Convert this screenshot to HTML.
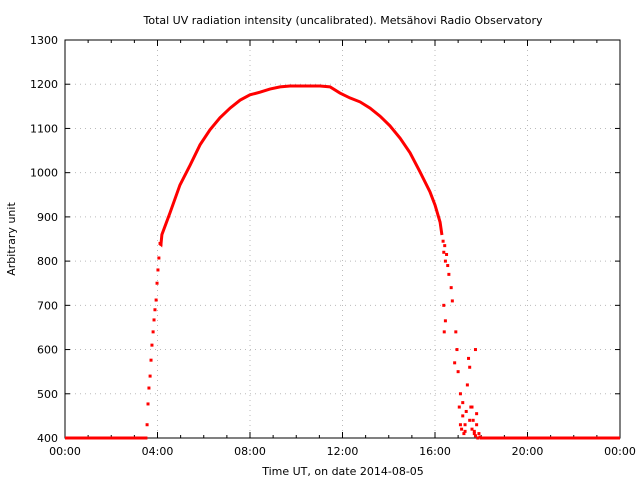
<!DOCTYPE html>
<html><head><meta charset="utf-8"><style>
body{margin:0;background:#fff}
svg{display:block;font-family:"DejaVu Sans","Liberation Sans",sans-serif;font-size:11px}
</style></head><body>
<svg id="chart" width="640" height="480">
<text x="343" y="24" text-anchor="middle">Total UV radiation intensity (uncalibrated). Metsähovi Radio Observatory</text>
<text x="343" y="475" text-anchor="middle">Time UT, on date 2014-08-05</text>
<text transform="translate(15,239) rotate(-90)" text-anchor="middle">Arbitrary unit</text>
<g id="grid"></g><g id="axes"></g><g id="marks"></g>
</svg>
<script>
const yTicks=[400,500,600,700,800,900,1000,1100,1200,1300];
const xTickHours=[0,4,8,12,16,20,24];
const xTickLabels=["00:00","04:00","08:00","12:00","16:00","20:00","00:00"];
const curveHours=[0,3.5,3.55,3.59,3.63,3.68,3.72,3.76,3.81,3.85,3.89,3.94,3.98,4.02,4.06,4.11,4.15,4.19,4.54,4.97,5.41,5.84,6.27,6.70,7.14,7.57,8.0,8.43,8.86,9.30,9.73,10.16,10.59,11.03,11.46,11.89,12.32,12.76,13.19,13.62,14.05,14.49,14.92,15.35,15.78,16.0,16.22,16.30];
const curveValues=[400,400,430,477,513,540,576,610,640,667,690,712,750,780,807,840,838,860,909,972,1017,1063,1097,1124,1146,1164,1176,1182,1189,1194,1196,1196,1196,1196,1194,1180,1169,1160,1146,1128,1106,1078,1045,1002,957,927,888,859];
const tailHours=[16.35,16.38,16.42,16.45,16.5,16.55,16.6,16.38,16.4,16.45,16.7,16.75,16.85,16.9,16.95,17.0,17.05,17.1,17.15,17.2,17.25,17.3,17.35,17.4,17.45,17.5,17.55,17.6,17.65,17.7,17.75,17.8,17.85,17.9,17.95,18.0,17.1,17.2,17.3,17.5,17.6,17.7,17.75,17.8];
const tailValues=[845,820,835,800,815,790,770,700,640,665,740,710,570,640,600,550,470,430,420,450,410,430,460,520,580,560,470,420,440,410,405,430,400,410,402,400,500,480,415,440,470,415,600,455];
const endHours=[18.05,24];
const endValues=[400,400];
const L=65,R=620,T=40,B=438;
const xs=h=>L+h/24*(R-L);
const ys=v=>B-(v-400)/900*(B-T);
const NS="http://www.w3.org/2000/svg";
function mk(tag,parent,attrs){const e=document.createElementNS(NS,tag);for(const k in attrs)e.setAttribute(k,attrs[k]);parent.appendChild(e);return e;}
const grid=document.getElementById('grid'),axes=document.getElementById('axes'),marks=document.getElementById('marks');
yTicks.forEach(v=>{
 const g=mk('line',grid,{x1:L,x2:R,y1:ys(v),y2:ys(v),stroke:'#bbb','stroke-dasharray':'1,4'});
 
 
 const t=mk('text',axes,{x:L-7,y:ys(v)+4,'text-anchor':'end'});t.textContent=v;
 
 
 mk('line',axes,{x1:L,x2:L+5,y1:ys(v),y2:ys(v),stroke:'#000'});
 mk('line',axes,{x1:R,x2:R-5,y1:ys(v),y2:ys(v),stroke:'#000'});
});
xTickHours.forEach((h,i)=>{
 const g=mk('line',grid,{x1:xs(h),x2:xs(h),y1:T,y2:B,stroke:'#bbb','stroke-dasharray':'1,4'});
 
 
 const t=mk('text',axes,{x:xs(h),y:B+17,'text-anchor':'middle'});t.textContent=xTickLabels[i];
 
 
});
for(let h=0;h<=24;h++){const len=h%4?3:6;mk('line',axes,{x1:xs(h),x2:xs(h),y1:B,y2:B-len,stroke:'#000'});mk('line',axes,{x1:xs(h),x2:xs(h),y1:T,y2:T+len,stroke:'#000'});}
const frame=mk('rect',axes,{x:L,y:T,width:R-L,height:B-T,fill:'none',stroke:'#000'});


function line(hs,vs,name,w){
 const p=mk('polyline',marks,{points:hs.map((h,i)=>xs(h)+','+ys(vs[i])).join(' '),fill:'none',stroke:'#f00','stroke-width':w});
 
 
}
line(curveHours.slice(0,2),curveValues.slice(0,2),'baseline-morning',3);
line(curveHours.slice(15),curveValues.slice(15),'uv-curve',3);
line(endHours,endValues,'baseline-evening',3);
function dots(hs,vs,name){hs.forEach((h,i)=>{
 const d=mk('rect',marks,{x:xs(h)-1.5,y:ys(vs[i])-1.5,width:3,height:3,fill:'#f00'});
 
 
});}
dots(curveHours.slice(1,17),curveValues.slice(1,17),'sunrise-point');
dots(tailHours,tailValues,'sunset-point');
</script>
</body></html>
